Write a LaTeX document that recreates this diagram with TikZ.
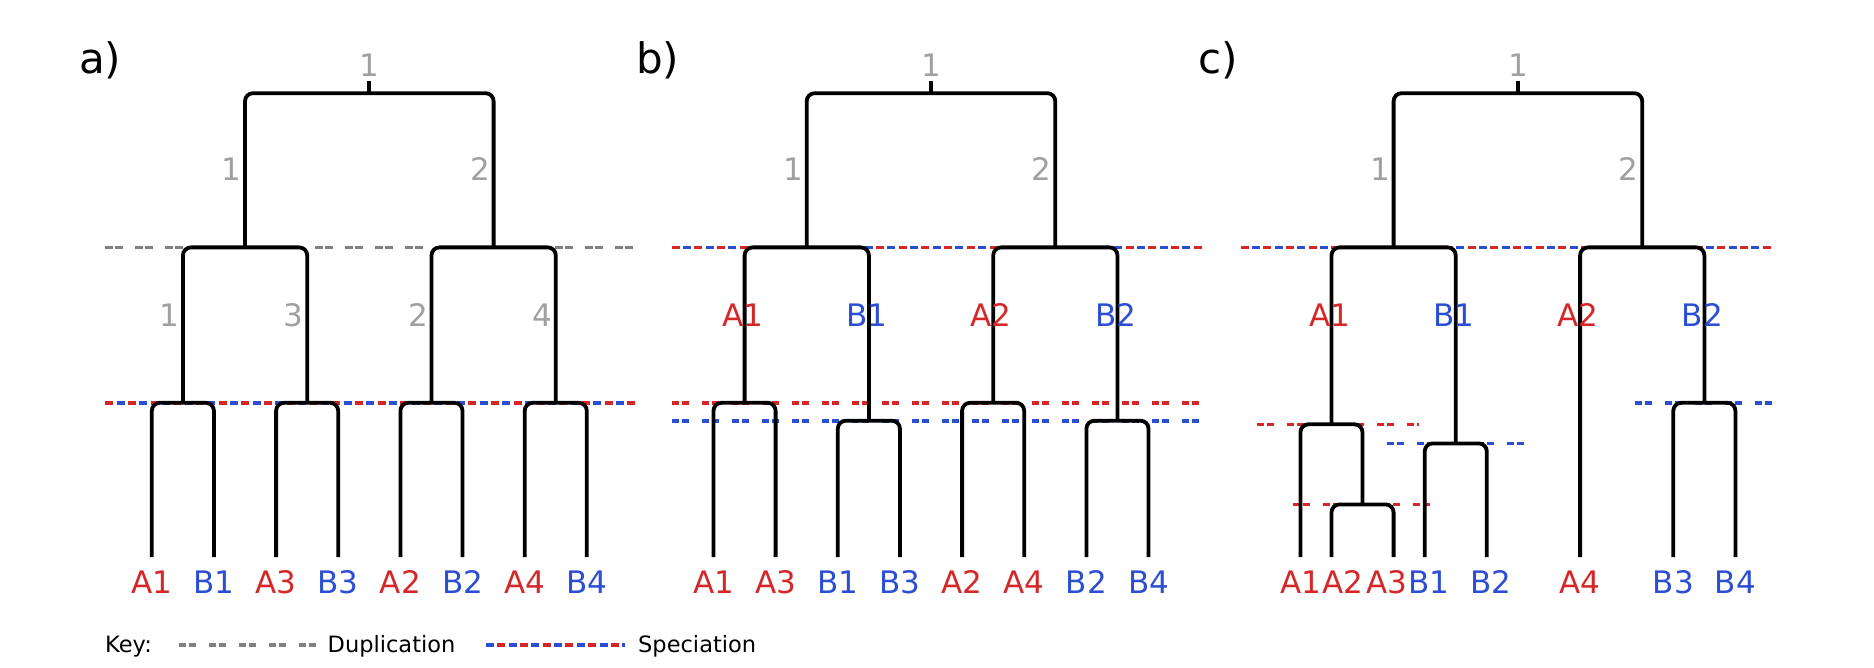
\documentclass[tikz,border=0pt]{standalone}
\usepackage{fontspec}
\setmainfont{DejaVu Sans}
\definecolor{myred}{HTML}{D62728}
\definecolor{myblue}{HTML}{2C4ED3}
\definecolor{numgray}{HTML}{A0A0A0}
\definecolor{dupgray}{HTML}{808080}
\tikzset{
  tree/.style={line width=3.8pt, rounded corners=8pt, line join=round},
  dupline/.style={draw=dupgray, line width=3.6pt, dash pattern=on 7.3pt off 2.7pt on 7.3pt off 12.7pt},
  redline/.style={draw=myred, line width=3.6pt, dash pattern=on 7.3pt off 2.7pt on 7.3pt off 12.7pt},
  blueline/.style={draw=myblue, line width=3.6pt, dash pattern=on 7.3pt off 2.7pt on 7.3pt off 12.7pt},
  specR/.style={draw=myred, line width=3.6pt, dash pattern=on 8pt off 14.7pt},
  specB/.style={draw=myblue, line width=3.6pt, dash pattern=on 8pt off 14.7pt, dash phase=11.35pt},
  specRk/.style={draw=myred, line width=3.6pt, dash pattern=on 8pt off 14.7pt, dash phase=11.35pt},
  specBk/.style={draw=myblue, line width=3.6pt, dash pattern=on 8pt off 14.7pt},
  lbl/.style={inner sep=0pt, anchor=base, font=\fontsize{31}{37}\selectfont},
  ra/.style={lbl, text=myred},
  bb/.style={lbl, text=myblue},
  num/.style={inner sep=0pt, anchor=base east, text=numgray, font=\fontsize{31}{37}\selectfont},
  topnum/.style={inner sep=0pt, anchor=base, text=numgray, font=\fontsize{31}{37}\selectfont},
  panel/.style={inner sep=0pt, anchor=base west, font=\fontsize{42}{50}\selectfont},
  keytxt/.style={inner sep=0pt, anchor=base west, font=\fontsize{22.5}{27}\selectfont},
}
\begin{document}
\begin{tikzpicture}[x=1pt,y=-1pt]
\useasboundingbox (0,0) rectangle (1874,668);

% ---------------- dashed event lines ----------------
% panel a
\coordinate (ad1) at (105.2,247.4); \coordinate (ad2) at (639.4,247.4);
\coordinate (as1) at (105.2,402.8); \coordinate (as2) at (637,402.8);
\draw[dupline] (ad1) -- (ad2);
\draw[specR] (as1) -- (as2);
\draw[specB] (as1) -- (as2);
% panel b
\coordinate (bs1) at (671.7,247.4); \coordinate (bs2) at (1203,247.4);
\coordinate (br1) at (671.7,402.8); \coordinate (br2) at (1206,402.8);
\coordinate (bb1) at (671.7,420.7); \coordinate (bb2) at (1206,420.7);
\draw[specR] (bs1) -- (bs2);
\draw[specB] (bs1) -- (bs2);
\draw[redline] (br1) -- (br2);
\draw[blueline] (bb1) -- (bb2);
% panel c
\coordinate (cs1) at (1240.6,247.4); \coordinate (cs2) at (1771,247.4);
\coordinate (cr1) at (1256.5,424.3); \coordinate (cr2) at (1419,424.3);
\coordinate (cb1) at (1386.5,443.4); \coordinate (cb2) at (1527.5,443.4);
\coordinate (cq1) at (1293,504.4);   \coordinate (cq2) at (1434,504.4);
\coordinate (cp1) at (1635,402.8);   \coordinate (cp2) at (1775,402.8);
\draw[specR] (cs1) -- (cs2);
\draw[specB] (cs1) -- (cs2);
\draw[redline] (cr1) -- (cr2);
\draw[blueline] (cb1) -- (cb2);
\draw[redline] (cq1) -- (cq2);
\draw[blueline] (cp1) -- (cp2);

% ---------------- panel a tree ----------------
\coordinate (aT) at (369.3,81.3);
\coordinate (aR) at (369.3,93.2);
\coordinate (aL1) at (245.0,247.4); \coordinate (aR1) at (493.6,247.4);
\coordinate (aN1) at (182.9,402.8); \coordinate (aN2) at (307.2,402.8);
\coordinate (aN3) at (431.5,402.8); \coordinate (aN4) at (555.8,402.8);
\coordinate (al1) at (151.8,557); \coordinate (al2) at (213.9,557);
\coordinate (al3) at (276.1,557); \coordinate (al4) at (338.2,557);
\coordinate (al5) at (400.4,557); \coordinate (al6) at (462.5,557);
\coordinate (al7) at (524.7,557); \coordinate (al8) at (586.8,557);
\draw[tree] (aT) -- (aR);
\draw[tree] (aL1) |- (aR) -| (aR1);
\draw[tree] (aN1) |- (aL1) -| (aN2);
\draw[tree] (aN3) |- (aR1) -| (aN4);
\draw[tree] (al1) |- (aN1) -| (al2);
\draw[tree] (al3) |- (aN2) -| (al4);
\draw[tree] (al5) |- (aN3) -| (al6);
\draw[tree] (al7) |- (aN4) -| (al8);

\node[panel] (pa) at (79,74) {a)};
\node[topnum] (an0) at (369.3,77) {1};
\node[num] (an1) at (241.5,181) {1};
\node[num] (an2) at (490.1,181) {2};
\node[num] (an3) at (179.4,326.8) {1};
\node[num] (an4) at (303.7,326.8) {3};
\node[num] (an5) at (428,326.8) {2};
\node[num] (an6) at (552.3,326.8) {4};
\node[ra] (aA1) at (151.8,593) {A1};
\node[bb] (aB1) at (213.9,593) {B1};
\node[ra] (aA3) at (276.1,593) {A3};
\node[bb] (aB3) at (338.2,593) {B3};
\node[ra] (aA2) at (400.4,593) {A2};
\node[bb] (aB2) at (462.5,593) {B2};
\node[ra] (aA4) at (524.7,593) {A4};
\node[bb] (aB4) at (586.8,593) {B4};

% ---------------- panel b tree ----------------
\coordinate (bT) at (931.0,81.3);
\coordinate (bR) at (931.0,93.2);
\coordinate (bL1) at (806.7,247.4); \coordinate (bR1) at (1055.3,247.4);
\coordinate (bN1) at (744.6,402.8); \coordinate (bN2) at (868.9,420.7);
\coordinate (bN3) at (993.2,402.8); \coordinate (bN4) at (1117.5,420.7);
\coordinate (bl1) at (713.5,557); \coordinate (bl2) at (775.6,557);
\coordinate (bl3) at (837.8,557); \coordinate (bl4) at (899.9,557);
\coordinate (bl5) at (962.1,557); \coordinate (bl6) at (1024.2,557);
\coordinate (bl7) at (1086.4,557); \coordinate (bl8) at (1148.5,557);
\draw[tree] (bT) -- (bR);
\draw[tree] (bL1) |- (bR) -| (bR1);
\draw[tree] (bN1) |- (bL1) -| (bN2);
\draw[tree] (bN3) |- (bR1) -| (bN4);
\draw[tree] (bl1) |- (bN1) -| (bl2);
\draw[tree] (bl3) |- (bN2) -| (bl4);
\draw[tree] (bl5) |- (bN3) -| (bl6);
\draw[tree] (bl7) |- (bN4) -| (bl8);

\node[panel] (pb) at (636,74) {b)};
\node[topnum] (bn0) at (931.0,77) {1};
\node[num] (bn1) at (803.2,181) {1};
\node[num] (bn2) at (1051.8,181) {2};
\node[ra] (bbA1) at (742.6,326.8) {A1};
\node[bb] (bbB1) at (866.9,326.8) {B1};
\node[ra] (bbA2) at (991.2,326.8) {A2};
\node[bb] (bbB2) at (1115.5,326.8) {B2};
\node[ra] (bA1) at (713.5,593) {A1};
\node[ra] (bA3) at (775.6,593) {A3};
\node[bb] (bB1) at (837.8,593) {B1};
\node[bb] (bB3) at (899.9,593) {B3};
\node[ra] (bA2) at (962.1,593) {A2};
\node[ra] (bA4) at (1024.2,593) {A4};
\node[bb] (bB2) at (1086.4,593) {B2};
\node[bb] (bB4) at (1148.5,593) {B4};

% ---------------- panel c tree ----------------
\coordinate (cT) at (1517.9,81.3);
\coordinate (cR) at (1517.9,93.2);
\coordinate (cL1) at (1393.6,247.4); \coordinate (cR1) at (1642.2,247.4);
\coordinate (cNA1) at (1331.5,424.3); \coordinate (cNB1) at (1455.7,443.4);
\coordinate (cNA23) at (1362.5,504.4); \coordinate (cNB2) at (1704.4,402.8);
\coordinate (cl1) at (1300.4,557); \coordinate (cl2) at (1331.5,557);
\coordinate (cl3) at (1393.6,557); \coordinate (cl4) at (1424.7,557);
\coordinate (cl5) at (1486.8,557); \coordinate (cl6) at (1580.1,557);
\coordinate (cl7) at (1673.3,557); \coordinate (cl8) at (1735.4,557);
\draw[tree] (cT) -- (cR);
\draw[tree] (cL1) |- (cR) -| (cR1);
\draw[tree] (cNA1) |- (cL1) -| (cNB1);
\draw[tree] (cl6) |- (cR1) -| (cNB2);
\draw[tree] (cl1) |- (cNA1) -| (cNA23);
\draw[tree] (cl2) |- (cNA23) -| (cl3);
\draw[tree] (cl4) |- (cNB1) -| (cl5);
\draw[tree] (cl7) |- (cNB2) -| (cl8);

\node[panel] (pc) at (1198,74) {c)};
\node[topnum] (cn0) at (1517.9,77) {1};
\node[num] (cn1) at (1390.1,181) {1};
\node[num] (cn2) at (1638.7,181) {2};
\node[ra] (ccA1) at (1329.5,326.8) {A1};
\node[bb] (ccB1) at (1453.7,326.8) {B1};
\node[ra] (ccA2) at (1578.1,326.8) {A2};
\node[bb] (ccB2) at (1702.4,326.8) {B2};
\node[ra] (cA1) at (1300.8,593) {A1};
\node[ra] (cA2) at (1342.5,593) {A2};
\node[ra] (cA3) at (1386.7,593) {A3};
\node[bb] (cB1) at (1429,593) {B1};
\node[bb] (cB2) at (1491,593) {B2};
\node[ra] (cA4) at (1580.1,593) {A4};
\node[bb] (cB3) at (1673.3,593) {B3};
\node[bb] (cB4) at (1735.4,593) {B4};

% ---------------- key ----------------
\node[keytxt] (key) at (105,652) {Key:};
\coordinate (kd1) at (179,645); \coordinate (kd2) at (320,645);
\draw[dupline] (kd1) -- (kd2);
\node[keytxt] (kdup) at (327.5,652) {Duplication};
\coordinate (ks1) at (486,645); \coordinate (ks2) at (625,645);
\draw[specBk] (ks1) -- (ks2);
\draw[specRk] (ks1) -- (ks2);
\node[keytxt] (kspec) at (638,652) {Speciation};
\end{tikzpicture}
\end{document}
